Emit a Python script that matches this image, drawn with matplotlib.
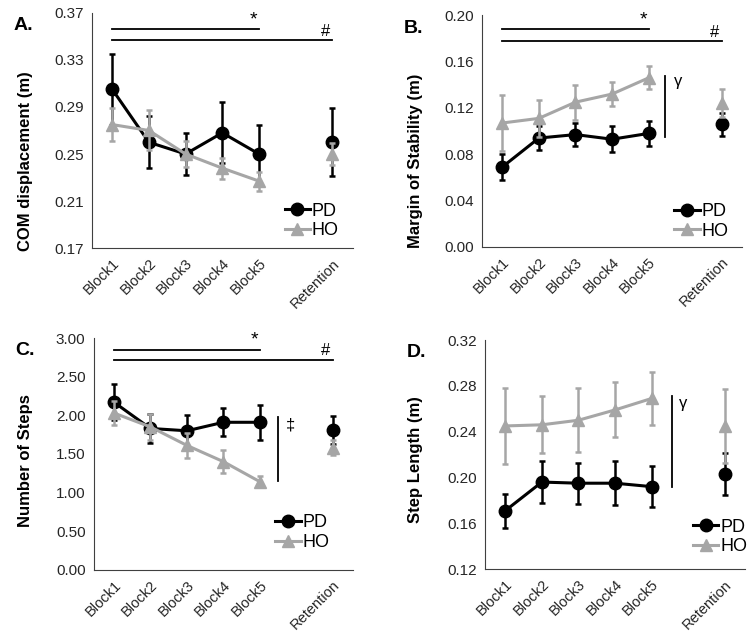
import matplotlib
matplotlib.use("Agg")
import matplotlib.pyplot as plt

plt.rcParams['font.family'] = ['Liberation Sans', 'DejaVu Sans']

blocks = ['Block1', 'Block2', 'Block3', 'Block4', 'Block5', 'Retention']
xpos = [0, 1, 2, 3, 4, 6]

# A. COM displacement
pd_com = [0.305, 0.260, 0.250, 0.268, 0.250, 0.260]
pd_com_err = [0.030, 0.022, 0.018, 0.026, 0.025, 0.029]
ho_com = [0.275, 0.270, 0.250, 0.238, 0.227, 0.250]
ho_com_err = [0.014, 0.017, 0.011, 0.009, 0.008, 0.009]

# B. Margin of stability
pd_mos = [0.069, 0.094, 0.097, 0.093, 0.098, 0.106]
pd_mos_err = [0.011, 0.010, 0.010, 0.011, 0.011, 0.010]
ho_mos = [0.107, 0.111, 0.125, 0.132, 0.146, 0.124]
ho_mos_err = [0.024, 0.016, 0.015, 0.010, 0.010, 0.012]

# C. Number of steps
pd_steps = [2.17, 1.83, 1.80, 1.91, 1.91, 1.81]
pd_steps_err = [0.23, 0.19, 0.20, 0.18, 0.23, 0.18]
ho_steps = [2.03, 1.85, 1.61, 1.40, 1.14, 1.58]
ho_steps_err = [0.16, 0.17, 0.16, 0.15, 0.07, 0.10]

# D. Step length
pd_sl = [0.171, 0.196, 0.195, 0.195, 0.192, 0.203]
pd_sl_err = [0.015, 0.018, 0.018, 0.019, 0.018, 0.018]
ho_sl = [0.245, 0.246, 0.250, 0.259, 0.269, 0.245]
ho_sl_err = [0.033, 0.025, 0.028, 0.024, 0.023, 0.032]

BLACK = '#000000'
GRAY = '#a6a6a6'

fig = plt.figure(figsize=(7.51, 6.38), dpi=100)


def panel(rect, letter, ylabel, pd, pd_err, ho, ho_err, yticks, leg_anchor, label_xy):
    ax = fig.add_axes(rect)
    # PD
    ax.errorbar(xpos, pd, yerr=pd_err, fmt='none', ecolor=BLACK, elinewidth=1.8,
                capsize=2.5, capthick=1.8, zorder=2)
    ax.plot(xpos[:5], pd[:5], color=BLACK, lw=2.2, zorder=3)
    ax.plot(xpos, pd, 'o', color=BLACK, ms=9, zorder=3)
    # HO
    ax.errorbar(xpos, ho, yerr=ho_err, fmt='none', ecolor=GRAY, elinewidth=1.8,
                capsize=2.5, capthick=1.8, zorder=4)
    ax.plot(xpos[:5], ho[:5], color=GRAY, lw=2.2, zorder=5)
    ax.plot(xpos, ho, '^', color=GRAY, ms=8, zorder=5)
    # legend proxies
    h1, = ax.plot([], [], '-o', color=BLACK, lw=2.2, ms=9, label='PD')
    h2, = ax.plot([], [], '-^', color=GRAY, lw=2.2, ms=8, label='HO')
    ax.legend(handles=[h1, h2], loc='center left', bbox_to_anchor=leg_anchor,
              frameon=False, fontsize=13, handlelength=1.4, handletextpad=0.1,
              borderpad=0, borderaxespad=0, labelspacing=0.15)

    ax.set_xlim(-0.55, 6.55)
    ax.set_ylim(yticks[0], yticks[-1])
    ax.set_yticks(yticks)
    ax.set_yticklabels(['{:.2f}'.format(v) for v in yticks], fontsize=11, color='#262626')
    ax.set_xticks(xpos)
    ax.set_xticklabels(blocks, rotation=45, ha='right', rotation_mode='anchor',
                       fontsize=10.5, color='#262626')
    ax.tick_params(length=0, pad=6)
    ax.spines['top'].set_visible(False)
    ax.spines['right'].set_visible(False)
    ax.spines['left'].set_color('#404040')
    ax.spines['bottom'].set_color('#404040')
    ax.set_ylabel(ylabel, fontsize=12, fontweight='bold')
    ax.yaxis.set_label_coords(*label_xy)
    fig.text(rect[0] - 0.105, rect[1] + rect[3] - 0.02, letter, fontsize=14,
             fontweight='bold', ha='left', va='center')
    return ax


def sig_lines(ax, y1, y2, dy):
    ax.plot([0, 4], [y1, y1], color=BLACK, lw=1.3, clip_on=False)
    ax.plot([0, 6], [y2, y2], color=BLACK, lw=1.3, clip_on=False)
    ax.text(3.85, y1 + dy, '*', fontsize=14, ha='center', va='bottom')
    ax.text(5.8, y2 + dy, '#', fontsize=12, ha='center', va='bottom')


axA = panel([0.1225, 0.611, 0.347, 0.369], 'A.', 'COM displacement (m)',
            pd_com, pd_com_err, ho_com, ho_com_err,
            [0.17, 0.21, 0.25, 0.29, 0.33, 0.37], (0.74, 0.115), (-0.227, 0.37))
sig_lines(axA, 0.356, 0.347, 0.001)

axB = panel([0.642, 0.613, 0.346, 0.363], 'B.', 'Margin of Stability (m)',
            pd_mos, pd_mos_err, ho_mos, ho_mos_err,
            [0.00, 0.04, 0.08, 0.12, 0.16, 0.20], (0.74, 0.11), (-0.227, 0.37))
sig_lines(axB, 0.188, 0.178, 0.001)
axB.plot([4.45, 4.45], [0.095, 0.148], color=BLACK, lw=1.3)
axB.text(4.8, 0.149, 'γ', fontsize=12, ha='center', va='top')

axC = panel([0.125, 0.107, 0.345, 0.363], 'C.', 'Number of Steps',
            pd_steps, pd_steps_err, ho_steps, ho_steps_err,
            [0.00, 0.50, 1.00, 1.50, 2.00, 2.50, 3.00], (0.70, 0.16), (-0.235, 0.47))
sig_lines(axC, 2.84, 2.72, 0.02)
axC.plot([4.5, 4.5], [1.15, 1.98], color=BLACK, lw=1.3)
axC.text(4.85, 1.97, '‡', fontsize=12, ha='center', va='top')

axD = panel([0.646, 0.108, 0.346, 0.359], 'D.', 'Step Length (m)',
            pd_sl, pd_sl_err, ho_sl, ho_sl_err,
            [0.12, 0.16, 0.20, 0.24, 0.28, 0.32], (0.80, 0.14), (-0.238, 0.48))
axD.plot([4.55, 4.55], [0.192, 0.271], color=BLACK, lw=1.3)
axD.text(4.85, 0.271, 'γ', fontsize=12, ha='center', va='top')

fig.savefig('out.png', dpi=100)
